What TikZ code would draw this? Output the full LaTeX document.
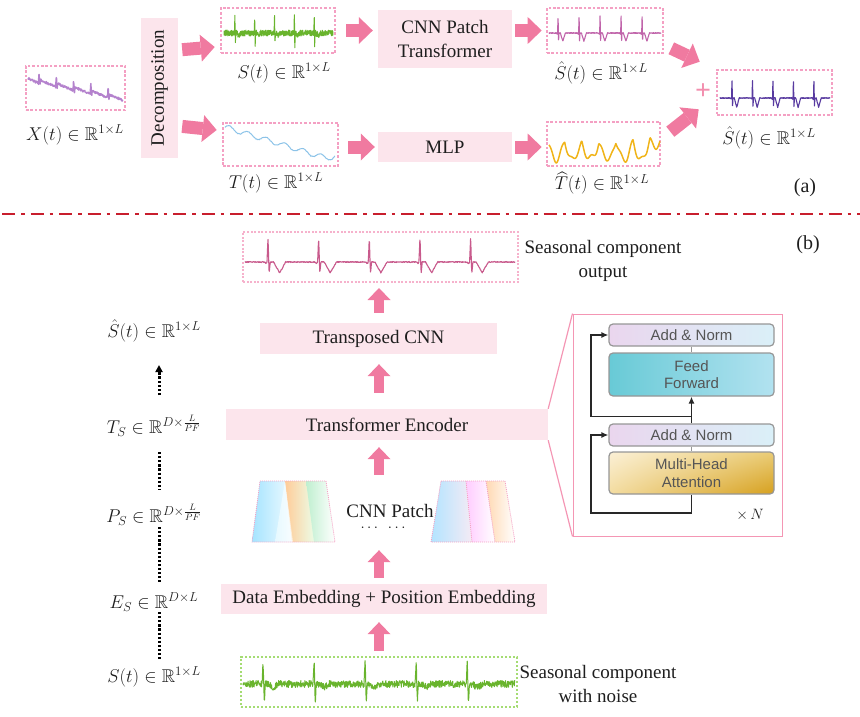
\RequirePackage{fix-cm}
\documentclass[tikz,border=0pt]{standalone}
\usepackage{fontspec}
\setmainfont{Liberation Serif}
\newfontfamily\arialfam{Liberation Sans}
\usepackage{amssymb}
\usepackage{graphicx}
\usetikzlibrary{arrows.meta,calc,shadings}
\definecolor{boxpink}{RGB}{252,229,236}
\definecolor{dotpink}{RGB}{244,160,195}
\definecolor{dotpinkb}{RGB}{246,178,204}
\definecolor{arrowpink}{RGB}{240,122,160}
\definecolor{redline}{RGB}{200,30,45}
\definecolor{sgreen}{RGB}{105,180,45}
\definecolor{dgreen}{RGB}{165,220,115}
\definecolor{xpurple}{RGB}{180,130,205}
\definecolor{tblue}{RGB}{140,195,232}
\definecolor{shpink}{RGB}{192,100,170}
\definecolor{thorange}{RGB}{240,180,25}
\definecolor{outindigo}{RGB}{88,58,160}
\definecolor{bpink}{RGB}{200,90,140}
\definecolor{detpink}{RGB}{244,150,180}
\definecolor{graytxt}{RGB}{85,85,85}
\definecolor{grayedge}{RGB}{150,150,150}
\definecolor{txt}{RGB}{30,30,30}
\definecolor{resid}{RGB}{40,40,40}
\definecolor{anl}{RGB}{234,214,238}
\definecolor{anr}{RGB}{218,240,248}
\definecolor{ffl}{RGB}{104,202,214}
\definecolor{ffr}{RGB}{178,226,240}
\definecolor{mhaul}{RGB}{251,240,214}
\definecolor{mhaur}{RGB}{234,204,118}
\definecolor{mhall}{RGB}{243,220,160}
\definecolor{mhalr}{RGB}{214,160,30}
\newcommand\bigtxt{\fontsize{19}{24}\selectfont}
\newcommand\mathtxt{\fontsize{18.5}{22}\selectfont}
\newcommand\sanstxt{\arialfam\fontsize{15}{17.5}\selectfont}
\begin{document}
\pgfmathsetseed{7}
\begin{tikzpicture}[x=1pt,y=-1pt, font=\bigtxt, text=txt,
  declare function={
    rpk(\ma,\ca,\wa)=max(0,1-abs(\ma-\ca)/\wa);
    ecg(\ma)=rpk(\ma,0.1,0.02)-0.45*rpk(\ma,0.125,0.02)-0.45*rpk(\ma,0.33,0.12)-0.06*rpk(\ma,0.06,0.03);
    ecgn(\ma)=rpk(\ma,0.1,0.02)-0.75*rpk(\ma,0.125,0.02)-0.15*rpk(\ma,0.3,0.1);
  },
  pbox/.style={fill=boxpink, inner sep=0pt, align=center},
  sbox/.style={draw=dotpink, line width=2.6pt, dash pattern=on 2.6pt off 1.8pt, inner sep=0pt},
  sboxb/.style={draw=dotpinkb, line width=2pt, dash pattern=on 2pt off 1.6pt, inner sep=0pt},
  gbox/.style={draw=dgreen, line width=2pt, dash pattern=on 2.4pt off 1.6pt, inner sep=0pt},
  harrow/.style={draw=arrowpink, line width=13pt, -{Triangle[length=14pt,width=27pt,line width=0pt]}},
  varrow/.style={draw=arrowpink, line width=10pt, -{Triangle[length=12pt,width=23pt,line width=0pt]}},
  dotline/.style={draw=black, line width=3pt, dash pattern=on 2.2pt off 1.9pt},
  mlabel/.style={font=\mathtxt, inner sep=1pt},
  dbox/.style={draw=grayedge, line width=1.2pt, rounded corners=4pt, minimum width=165pt, inner sep=0pt, align=center, font=\sanstxt, text=graytxt},
  residual/.style={draw=resid, line width=1.3pt, -{Latex[length=7pt,width=6pt]}},
  patchline/.style={draw=dotpink, line width=0.8pt, dash pattern=on 1pt off 1pt}
]
\useasboundingbox (0,0) rectangle (860,717);

% ================= (a) =================
\node[sbox, minimum width=99pt, minimum height=44pt] (x) at (75.5,88) {};
\begin{scope}[shift={(28,88)}, x=95pt, y=1pt]
\draw[xpurple, line width=1.4pt, line join=round] plot[domain=0:1,samples=300] (\x,{9-20*\x+4*(0.5-mod(\x*5.5+0.39,1))+7*rpk(mod(\x*5.5+0.39,1),0.03,0.03)-6*rpk(mod(\x*5.5+0.39,1),0.08,0.03)+1.2*rand});
\end{scope}
\node[mlabel] (xl) at (75,135) {$X(t)\in\mathbb{R}^{1\times L}$};

\node[pbox, minimum width=37pt, minimum height=140pt] (dec) at (159.5,88) {\rotatebox{90}{Decomposition}};

\node[sbox, minimum width=114pt, minimum height=45pt] (s) at (278,30.5) {};
\begin{scope}[shift={(224,33)}, x=109pt, y=1pt]
\draw[sgreen, line width=1pt, line join=round] plot[domain=0:1, samples=601] (\x,{18*ecgn(mod(\x*5.5+0.55,1))+3*rand});
\end{scope}
\node[mlabel] (sl) at (284,73) {$S(t)\in\mathbb{R}^{1\times L}$};

\node[sbox, minimum width=115pt, minimum height=43pt] (t) at (280.5,144.5) {};
\begin{scope}[shift={(225,144)}, x=110pt, y=1pt]
\draw[tblue, line width=1pt] plot[domain=0:1, samples=120, smooth] (\x,{17-34*\x+2.5*sin(\x*2160)+60*max(0,\x-0.92)+0.4*rand});
\end{scope}
\node[mlabel] (tl) at (276,183) {$T(t)\in\mathbb{R}^{1\times L}$};

\node[pbox, minimum width=134pt, minimum height=58pt] (cnn) at (445,39) {CNN Patch\\Transformer};
\node[pbox, minimum width=134pt, minimum height=30pt] (mlp) at (445,147) {MLP};

\node[sbox, minimum width=116pt, minimum height=45pt] (shat) at (605,30.5) {};
\begin{scope}[shift={(549,33)}, x=112pt, y=1pt]
\draw[shpink, line width=1.1pt, line join=round] plot[domain=0:1, samples=601] (\x,{18*ecg(mod(\x*5.33+0.67,1))+0.4*rand});
\end{scope}
\node[mlabel] (shl) at (601,73) {$\hat{S}(t)\in\mathbb{R}^{1\times L}$};

\node[sbox, minimum width=113pt, minimum height=44pt] (that) at (603.5,144) {};
\begin{scope}[shift={(549,144)}, x=111pt, y=1pt]
\draw[thorange, line width=1.5pt, line join=round] plot[domain=0:1, samples=220] (\x,{2-17*abs(sin(\x*1170+15))+2.5*sin(\x*4000)+1.5*cos(\x*2900)+120*max(0,\x-0.88)});
\end{scope}
\node[mlabel] (thl) at (602,183) {$\widehat{T}(t)\in\mathbb{R}^{1\times L}$};

\node[text=arrowpink!85, font=\bfseries\fontsize{28}{28}\selectfont, inner sep=0pt] (plus) at (703,92) {+};

\node[sbox, minimum width=115pt, minimum height=45pt] (out) at (774.5,92.5) {};
\begin{scope}[shift={(720,98)}, x=110pt, y=1pt]
\draw[outindigo, line width=1.1pt, line join=round] plot[domain=0:1, samples=601] (\x,{21*ecg(mod(\x*5.37+0.514,1))+0.4*rand});
\end{scope}
\node[mlabel] (outl) at (769,138) {$\hat{S}(t)\in\mathbb{R}^{1\times L}$};

\node[font=\fontsize{20}{24}\selectfont] (alab) at (805,188) {(a)};

% arrows (a)
\draw[harrow, shorten <=4pt] ([yshift=38pt]dec.east) -- ([xshift=-5pt,yshift=-16.5pt]s.west);
\draw[harrow, shorten <=4pt] ([yshift=-38pt]dec.east) -- ([xshift=-5pt,yshift=14.5pt]t.west);
\draw[harrow, shorten <=10pt, shorten >=5pt] (s.east) -- (s.east -| cnn.west);
\draw[harrow, shorten <=9pt, shorten >=3pt] (t.east |- mlp.west) -- (mlp.west);
\draw[harrow, shorten <=3pt, shorten >=4pt] (cnn.east |- shat.west) -- (shat.west);
\draw[harrow, shorten <=3pt, shorten >=4pt] (mlp.east) -- (mlp.east -| that.west);
\draw[harrow] ([xshift=7pt,yshift=6pt]shat.south east) -- ([xshift=-16pt,yshift=7pt]out.north west);
\draw[harrow] ([xshift=9pt,yshift=-11pt]that.north east) -- ([xshift=-17pt,yshift=7pt]out.south west);

% separator
\draw[redline, line width=2.6pt, dash pattern=on 13pt off 6pt on 3.5pt off 6pt] (2,214) -- (860,214);

% ================= (b) =================
\node[font=\fontsize{20}{24}\selectfont] (blab) at (808,245) {(b)};

\node[sboxb, minimum width=275pt, minimum height=50pt] (ob) at (380.5,257) {};
\begin{scope}[shift={(245,262)}, x=270pt, y=1pt]
\draw[bpink, line width=1.1pt, line join=round] plot[domain=0:1, samples=801] (\x,{24*ecg(mod(\x*5.33+0.6465,1))+0.5*rand});
\end{scope}
\node[align=center] (obt) at (603,261) {Seasonal component\\output};

\node[pbox, minimum width=237pt, minimum height=31pt] (tcnn) at (378.5,338.5) {Transposed CNN};
\node[pbox, minimum width=322pt, minimum height=31pt] (enc) at (387,424.5) {Transformer Encoder};

% CNN patch groups
\shade[left color=blue!30!cyan!35, right color=white] (260,481) -- (290,481) -- (300,542) -- (252,542) -- cycle;
\shade[left color=orange!40, right color=green!8] (285,481) -- (307,481) -- (316,542) -- (292,542) -- cycle;
\shade[left color=green!50!teal!25, right color=white] (306,481) -- (326,481) -- (335,542) -- (314,542) -- cycle;
\shade[left color=white!60!cyan!10, right color=white, opacity=0.6] (275,542) -- (285,481) -- (293,542) -- cycle;
\draw[patchline] (260,481) -- (326,481) -- (335,542) -- (252,542) -- cycle;
\shade[left color=blue!35!cyan!30, right color=violet!8] (441,481) -- (466,481) -- (472,542) -- (431,542) -- cycle;
\shade[left color=magenta!20, right color=white] (466,481) -- (486,481) -- (495,542) -- (472,542) -- cycle;
\shade[left color=orange!30, right color=white] (486,481) -- (505,481) -- (515,542) -- (495,542) -- cycle;
\draw[patchline] (441,481) -- (505,481) -- (515,542) -- (431,542) -- cycle;
\draw[patchline] (466,481) -- (472,542) (486,481) -- (495,542);
\node[minimum width=263pt, minimum height=61pt, inner sep=0pt] (patch) at (383.5,511.5) {};
\node[inner sep=0pt] (ptxt) at (390,511) {CNN Patch};
\node[inner sep=0pt, font=\fontsize{15}{15}\selectfont] (pdots) at (383,528) {$\cdots\enspace\cdots$};

\node[pbox, minimum width=326pt, minimum height=30pt] (emb) at (384,599) {Data Embedding + Position Embedding};

\node[gbox, minimum width=276pt, minimum height=50pt] (inb) at (379,682) {};
\begin{scope}[shift={(243,684)}, x=272pt, y=1pt]
\draw[sgreen, line width=1pt, line join=round] plot[domain=0:1, samples=801] (\x,{23*ecgn(mod(\x*5.33+0.708,1))+3.5*rand});
\end{scope}
\node[align=center] (inbt) at (598,684) {Seasonal component\\with noise};

% vertical arrows
\coordinate (ax) at (379,0);
\draw[varrow, shorten <=5pt, shorten >=8pt] (ax |- inb.north) -- (ax |- emb.south);
\draw[varrow, shorten <=6pt, shorten >=8pt] (ax |- emb.north) -- (ax |- patch.south);
\draw[varrow, shorten <=6pt, shorten >=7pt] (ax |- patch.north) -- (ax |- enc.south);
\draw[varrow, shorten <=16pt, shorten >=10pt] (ax |- enc.north) -- (ax |- tcnn.south);
\draw[varrow, shorten <=10pt, shorten >=5pt] (ax |- tcnn.north) -- (ax |- ob.south);

% left column
\node[mlabel] (lshat) at (154,331) {$\hat{S}(t)\in\mathbb{R}^{1\times L}$};
\node[mlabel] (lts) at (154,426) {$T_S\in\mathbb{R}^{D\times\frac{L}{PF}}$};
\node[mlabel] (lps) at (154,515) {$P_S\in\mathbb{R}^{D\times\frac{L}{PF}}$};
\node[mlabel] (les) at (154,602) {$E_S\in\mathbb{R}^{D\times L}$};
\node[mlabel] (lst) at (154,677) {$S(t)\in\mathbb{R}^{1\times L}$};
\coordinate (dx) at (159,0);
\draw[dotline, -{Triangle[length=7pt,width=7pt]}] ($(dx|-lts)+(0,-31)$) -- ($(dx|-lshat)+(0,34)$);
\draw[dotline] ($(dx|-lts)+(0,26)$) -- ($(dx|-lps)+(0,-25)$);
\draw[dotline] ($(dx|-lps)+(0,12)$) -- ($(dx|-les)+(0,-20)$);
\draw[dotline] ($(dx|-les)+(0,10)$) -- ($(dx|-lst)+(0,-17)$);

% transformer detail
\node[draw=detpink, line width=1pt, minimum width=209pt, minimum height=222pt, inner sep=0pt] (det) at (677.5,425) {};
\draw[detpink, line width=1.2pt] (enc.north east) -- (det.north west);
\draw[detpink, line width=1.2pt] (enc.south east) -- (det.south west);

\node[dbox, minimum height=22pt, left color=anl, right color=anr] (an1) at (691.5,335) {Add \& Norm};
\node[dbox, minimum height=43pt, left color=ffl, right color=ffr] (ff) at (691.5,374.5) {Feed\\Forward};
\node[dbox, minimum height=22pt, left color=anl, right color=anr] (an2) at (691.5,435) {Add \& Norm};
\node[dbox, minimum height=42pt, upper left=mhaul, upper right=mhaur, lower left=mhall, lower right=mhalr] (mha) at (691.5,473) {Multi-Head\\Attention};

\draw[grayedge, line width=1pt] (an1.south) -- (ff.north);
\draw[grayedge, line width=1pt] (an2.south) -- (mha.north);
\draw[residual] (an2.north) -- (ff.south);
\coordinate (r1) at ($(an2.north)!0.25!(ff.south)$);
\coordinate (rx) at (591,0);
\coordinate (rb) at (591,513);
\draw[residual] (r1) -- (r1 -| rx) |- (an1.west);
\draw[residual] (mha.south) |- (rb) |- (an2.west);
\node[font=\fontsize{15}{17}\selectfont] (xn) at (750,515) {$\times\, N$};
\end{tikzpicture}
\end{document}
